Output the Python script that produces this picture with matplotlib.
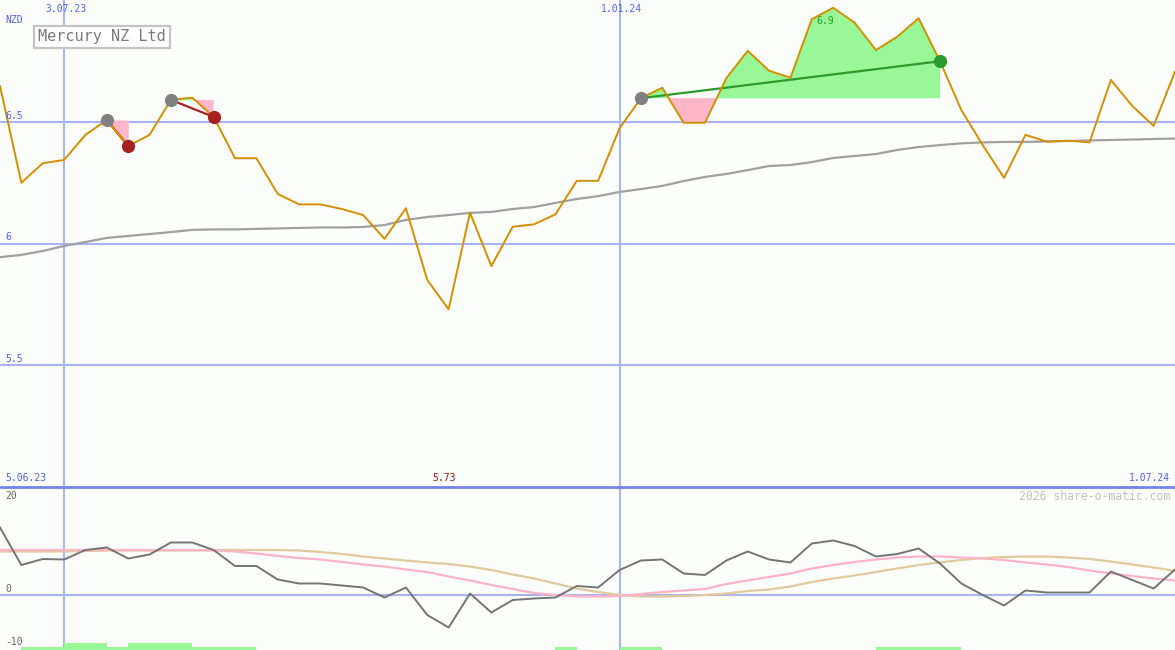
import numpy as np
import pandas as pd
import matplotlib
matplotlib.use("Agg")
import matplotlib.pyplot as plt

# weekly closes, Mercury NZ Ltd (NZD)
dates = pd.date_range("2023-06-12", periods=56, freq="7D")
price = [6.648, 6.250, 6.330, 6.344, 6.447, 6.508, 6.401, 6.447, 6.591, 6.600,
         6.521, 6.351, 6.351, 6.204, 6.161, 6.161, 6.142, 6.117, 6.019, 6.145,
         5.850, 5.729, 6.127, 5.907, 6.069, 6.079, 6.120, 6.258, 6.258, 6.474,
         6.598, 6.641, 6.497, 6.497, 6.680, 6.793, 6.711, 6.682, 6.923, 6.970,
         6.909, 6.796, 6.851, 6.927, 6.750, 6.549, 6.405, 6.270, 6.447, 6.419,
         6.423, 6.416, 6.673, 6.566, 6.484, 6.707]
avg_long = [5.944, 5.953, 5.969, 5.990, 6.006, 6.023, 6.031, 6.039, 6.047, 6.056,
            6.058, 6.058, 6.060, 6.062, 6.064, 6.066, 6.066, 6.068, 6.076, 6.097,
            6.109, 6.117, 6.126, 6.130, 6.142, 6.150, 6.167, 6.183, 6.195, 6.212,
            6.224, 6.237, 6.257, 6.274, 6.286, 6.302, 6.319, 6.323, 6.335, 6.352,
            6.360, 6.368, 6.385, 6.397, 6.405, 6.412, 6.416, 6.418, 6.418, 6.420,
            6.422, 6.424, 6.426, 6.428, 6.430, 6.432]

# lower panel indicators
momentum = [13.5, 6.0, 7.2, 7.1, 9.0, 9.5, 7.3, 8.1, 10.5, 10.5,
            9.0, 5.8, 5.8, 3.1, 2.3, 2.3, 1.9, 1.5, -0.5, 1.5,
            -4.0, -6.5, 0.3, -3.5, -1.0, -0.7, -0.5, 1.8, 1.5, 5.0,
            6.9, 7.1, 4.3, 4.0, 6.9, 8.7, 7.1, 6.5, 10.3, 10.9,
            9.8, 7.7, 8.2, 9.3, 6.3, 2.3, 0.0, -2.1, 0.9, 0.5,
            0.5, 0.5, 4.7, 3.0, 1.3, 5.1]
smooth_fast = [9.0, 9.0, 9.0, 9.0, 9.0, 9.0, 9.0, 9.0, 9.0, 9.0,
               8.9, 8.7, 8.3, 7.8, 7.4, 7.1, 6.6, 6.1, 5.7, 5.1,
               4.6, 3.7, 2.9, 2.0, 1.2, 0.4, 0.0, -0.3, -0.3, -0.2,
               0.2, 0.6, 0.9, 1.2, 2.2, 2.9, 3.6, 4.3, 5.3, 6.0,
               6.6, 7.1, 7.5, 7.7, 7.7, 7.5, 7.3, 7.0, 6.5, 6.1,
               5.6, 4.9, 4.3, 3.8, 3.3, 2.9]
smooth_slow = [8.7, 8.7, 8.7, 8.7, 8.8, 8.9, 8.9, 8.9, 8.9, 8.9,
               9.0, 9.0, 9.0, 9.0, 8.9, 8.6, 8.2, 7.7, 7.3, 6.9,
               6.5, 6.2, 5.7, 5.0, 4.1, 3.3, 2.3, 1.3, 0.6, 0.0,
               -0.3, -0.3, -0.2, 0.0, 0.3, 0.8, 1.1, 1.7, 2.6, 3.3,
               3.9, 4.6, 5.3, 6.0, 6.5, 7.0, 7.4, 7.6, 7.7, 7.7,
               7.5, 7.2, 6.7, 6.1, 5.5, 4.8]
signal_bars = [0, 0.7, 0.7, 1.4, 1.4, 0.7, 1.4, 1.4, 1.4, 0.7,
               0.7, 0.7, 0, 0, 0, 0, 0, 0, 0, 0,
               0, 0, 0, 0, 0, 0, 0.7, 0, 0, 0.7,
               0.7, 0, 0, 0, 0, 0, 0, 0, 0, 0,
               0, 0.7, 0.7, 0.7, 0.7, 0, 0, 0, 0, 0,
               0, 0, 0, 0, 0, 0]

# trades: (entry index, exit index, won?)
trades = [(5, 6, False), (8, 10, False), (30, 44, True)]

price_ticks = [5.5, 6.0, 6.5]
price_tick_labels = ["5.5", "6", "6.5"]
date_marks = ["2023-07-03", "2024-01-01"]
date_mark_labels = ["3.07.23", "1.01.24"]
lower_ticks = [20, 0, -10]
lower_label_shift = [-1, 6, 3]   # pixels above the value

bg = "#fbfefb"
grid_c = "#a9b5f2"
blue_txt = "#4f5ff5"
mono = "DejaVu Sans Mono"

fig = plt.figure(figsize=(11.75, 6.5), dpi=100, facecolor=bg)
ax = fig.add_axes([0, 163 / 650, 1, 487 / 650], facecolor=bg)
ax2 = fig.add_axes([0, 0, 1, 163 / 650], facecolor=bg)

x = np.array(dates.to_pydatetime())
p = np.array(price)

for t in price_ticks:
    ax.axhline(t, color=grid_c, lw=1.5, zorder=1)
for d in date_marks:
    ax.axvline(pd.Timestamp(d), color=grid_c, lw=1.5, zorder=1)
    ax2.axvline(pd.Timestamp(d), color=grid_c, lw=1.5, zorder=1)

ax.plot(x, avg_long, color="#a0a0a0", lw=1.6, zorder=2)

for i0, i1, won in trades:
    seg = slice(i0, i1 + 1)
    level = p[i0]
    ax.fill_between(x[seg], p[seg], level, where=p[seg] >= level,
                    color="#98f898", lw=0, interpolate=True, zorder=2)
    ax.fill_between(x[seg], p[seg], level, where=p[seg] <= level,
                    color="#ffb6c8", lw=0, interpolate=True, zorder=2)
    c = "#2a9a2a" if won else "#a52222"
    ax.plot([x[i0], x[i1]], [p[i0], p[i1]], color=c, lw=1.6, zorder=2.5)

ax.plot(x, p, color="#d38f00", lw=1.4, zorder=3)

for i0, i1, won in trades:
    c = "#2a9a2a" if won else "#a52222"
    ax.plot(x[i0], p[i0], "o", ms=8.5, color="#808080", zorder=5)
    ax.plot(x[i1], p[i1], "o", ms=8.5, color=c, zorder=5)

ax.set_xlim(x[0], x[-1])
ax.set_ylim(4.998, 7.002)
ax.set_xticks([])
ax.set_yticks([])
for s in ax.spines.values():
    s.set_visible(False)

for t, lab in zip(price_ticks, price_tick_labels):
    ax.annotate(lab, (0, t), xycoords=("axes fraction", "data"), xytext=(5, 1),
                textcoords="offset pixels", color=blue_txt, fontsize=7,
                family=mono, va="bottom", ha="left")
ax.text(5 / 1175, 1 - 20 / 487, "NZD", transform=ax.transAxes, color=blue_txt,
        fontsize=7, family=mono, va="center", ha="left")
for d, lab in zip(date_marks, date_mark_labels):
    ax.annotate(lab, (pd.Timestamp(d), 1), xycoords=("data", "axes fraction"),
                xytext=(2, -9), textcoords="offset pixels", color=blue_txt,
                fontsize=7, family=mono, va="center", ha="center")
ax.text(5 / 1175, 9 / 487, "5.06.23", transform=ax.transAxes, color=blue_txt,
        fontsize=7, family=mono, va="center", ha="left")
ax.text(1 - 5 / 1175, 9 / 487, "1.07.24", transform=ax.transAxes, color=blue_txt,
        fontsize=7, family=mono, va="center", ha="right")

imin = int(np.argmin(p))
imax = int(np.argmax(p))
ax.annotate(f"{p[imin]:.2f}", (x[imin], 0), xycoords=("data", "axes fraction"),
            xytext=(-5, 9), textcoords="offset pixels", color="#a01818",
            fontsize=7, family=mono, va="center", ha="center")
ax.annotate(f"{np.floor(p[imax] * 10) / 10:.1f}", (x[imax], p[imax]),
            xytext=(-8, -13), textcoords="offset pixels", color="#229922",
            fontsize=7, family=mono, va="center", ha="center", zorder=6)

ax.text(38 / 1175, 1 - 37 / 487, "Mercury NZ Ltd", transform=ax.transAxes,
        color="#7a7a7a", fontsize=11, family=mono, va="center", ha="left",
        bbox=dict(boxstyle="square,pad=0.25", fc="white", ec="#c4c4c4", lw=1.6))

# lower panel
ax2.axhline(0, color=grid_c, lw=1.5, zorder=1)
ax2.bar(x, signal_bars, width=7, bottom=-11, align="edge", color="#98f898",
        lw=0, zorder=2)
ax2.plot(x, smooth_slow, color="#e2c99a", lw=1.6, zorder=3)
ax2.plot(x, smooth_fast, color="#ffb3c8", lw=1.6, zorder=3)
ax2.plot(x, momentum, color="#747474", lw=1.4, zorder=4)
ax2.set_xlim(x[0], x[-1])
ax2.set_ylim(-11, 21.6)
ax2.set_xticks([])
ax2.set_yticks([])
for side, s in ax2.spines.items():
    s.set_visible(side == "top")
ax2.spines["top"].set_color("#7383ee")
ax2.spines["top"].set_linewidth(2)

for t, dy in zip(lower_ticks, lower_label_shift):
    ax2.annotate(str(t), (0, t), xycoords=("axes fraction", "data"),
                 xytext=(5, dy), textcoords="offset pixels",
                 color="#666666", fontsize=7, family=mono,
                 va="center", ha="left")
ax2.text(1 - 5 / 1175, 1 - 9 / 163, "2026 share-o-matic.com",
         transform=ax2.transAxes, color="#c2c2c2", fontsize=8.3, family=mono,
         va="center", ha="right")

fig.savefig("out.png", dpi=100, facecolor=bg)
